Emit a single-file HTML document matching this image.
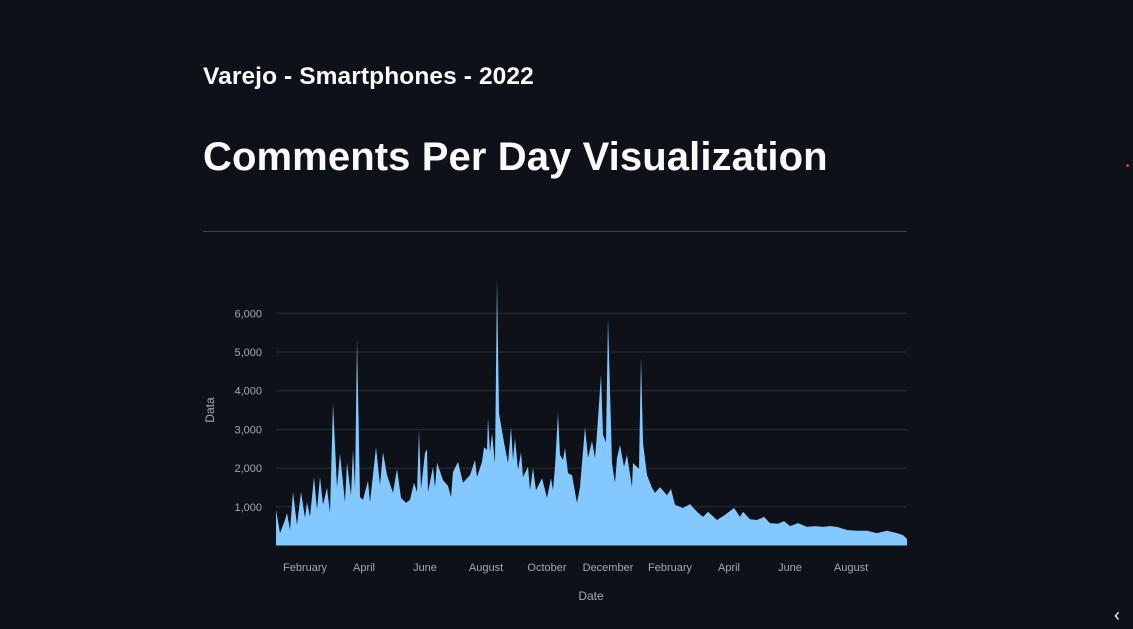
<!DOCTYPE html>
<html><head><meta charset="utf-8"><style>
body{margin:0;background:#0e1117;width:1133px;height:629px;overflow:hidden;font-family:"Liberation Sans",sans-serif;color:#fafafa;position:relative}
h2{position:absolute;left:203px;top:63px;margin:0;font-size:24.5px;font-weight:700;letter-spacing:0.1px}
h1{position:absolute;left:203px;top:135px;margin:0;font-size:40px;font-weight:700;letter-spacing:0.1px}
.hr{position:absolute;left:203px;top:231px;width:704px;height:1px;background:#3d4048}
svg{position:absolute;left:0;top:0}
</style></head><body>
<h2>Varejo - Smartphones - 2022</h2>
<h1>Comments Per Day Visualization</h1>
<div class="hr"></div>
<div style="position:absolute;left:1126px;top:164px;width:3px;height:3px;background:#e0312f;border-radius:50%"></div>
<div style="position:absolute;left:1114px;top:605px;font-size:18px;color:#fafafa">&#8249;</div>
<svg id="chart" width="1133" height="629"></svg>
<script>
const dayOffsets=[2,6,11,13,16,19,23,27,31,33,36,40,43,46,49,53,56,59,63,66,71,73,77,79,81,83,86,89,94,96,102,106,109,113,119,123,127,132,136,140,143,145,147,151,153,154,159,161,163,169,174,177,179,184,189,196,201,203,208,210,213,214,
216,218,221,223,225,230,234,237,239,241,244,247,249,254,256,259,262,268,273,277,279,281,284,286,289,291,294,298,303,306,311,314,318,321,323,327,329,332,334,338,341,343,346,350,353,358,359,363,365,367,369,373,378,381,386,
393,397,401,409,416,423,429,434,443,451,460,466,469,476,483,490,496,504,510,516,524,533,541,549,556,563,573,583,593,603,613,623,629,633];
const values=[920,320,660,840,400,1380,530,1380,710,1120,740,1770,920,1770,1050,1490,840,3680,1490,2370,1120,2140,1300,2490,1490,5340,1250,1180,1670,1120,2540,1560,2410,1820,1360,1980,1230,1100,1180,1620,1380,2980,1460,2390,2490,1380,2030,1490,2140,1690,1540,1250,1900,2160,1620,1820,2210,1770,2160,2540,2470,3290,
2410,2900,2130,6880,3420,2670,2130,3060,2210,2770,1950,2410,1770,2030,1430,2000,1430,1740,1230,1740,1430,2030,3420,2340,2210,2520,1870,1820,1100,1510,3060,2260,2700,2260,2900,4410,2860,2670,5880,2130,1620,2260,2600,2030,2340,1510,2130,2030,1980,4870,2650,1820,1490,1360,1510,
1300,1460,1050,970,1070,870,740,870,660,790,970,740,870,680,660,740,580,560,630,500,580,480,500,480,500,480,400,380,380,320,380,320,270,170];
const yTicks=[1000,2000,3000,4000,5000,6000];
const yTickLabels=["1,000","2,000","3,000","4,000","5,000","6,000"];
const xTickDays=[31,90,151,212,273,334,396,455,516,577];
const xTickLabels=["February","April","June","August","October","December","February","April","June","August"];
const NS="http://www.w3.org/2000/svg";
const svg=document.getElementById('chart');
const X0=276,X1=907,Y0=545.5;
const xs=d=>274+d;
const ys=v=>Y0-v*0.0387;
function mk(t,a){const e=document.createElementNS(NS,t);for(const k in a)e.setAttribute(k,a[k]);svg.appendChild(e);return e;}
yTicks.forEach((v,i)=>{
 const g=mk('line',{x1:X0,x2:X1,y1:ys(v),y2:ys(v),stroke:'#2c2f36','stroke-width':1});
 
 
 const t=mk('text',{x:262,y:ys(v)+4,'text-anchor':'end','font-size':11,fill:'#a3a8b4','font-family':'Liberation Sans,sans-serif'});
 t.textContent=yTickLabels[i];
 
 
});
xTickDays.forEach((d,i)=>{
 const t=mk('text',{x:xs(d),y:571,'text-anchor':'middle','font-size':11,fill:'#a3a8b4','font-family':'Liberation Sans,sans-serif'});
 t.textContent=xTickLabels[i];
 
 
});
const n=Math.min(dayOffsets.length,values.length);
let p='M'+xs(dayOffsets[0])+','+Y0;
for(let i=0;i<n;i++){p+='L'+xs(dayOffsets[i]).toFixed(1)+','+ys(values[i]).toFixed(1);}
p+='L'+xs(dayOffsets[n-1])+','+Y0+'Z';
const area=mk('path',{d:p,fill:'#83c9ff'});


const yt=mk('text',{x:214,y:410,'text-anchor':'middle','font-size':12,fill:'#a3a8b4',transform:'rotate(-90 214 410)','font-family':'Liberation Sans,sans-serif'});
yt.textContent='Data';


const xt=mk('text',{x:591,y:600,'text-anchor':'middle','font-size':12,fill:'#a3a8b4','font-family':'Liberation Sans,sans-serif'});
xt.textContent='Date';


</script>
</body></html>
